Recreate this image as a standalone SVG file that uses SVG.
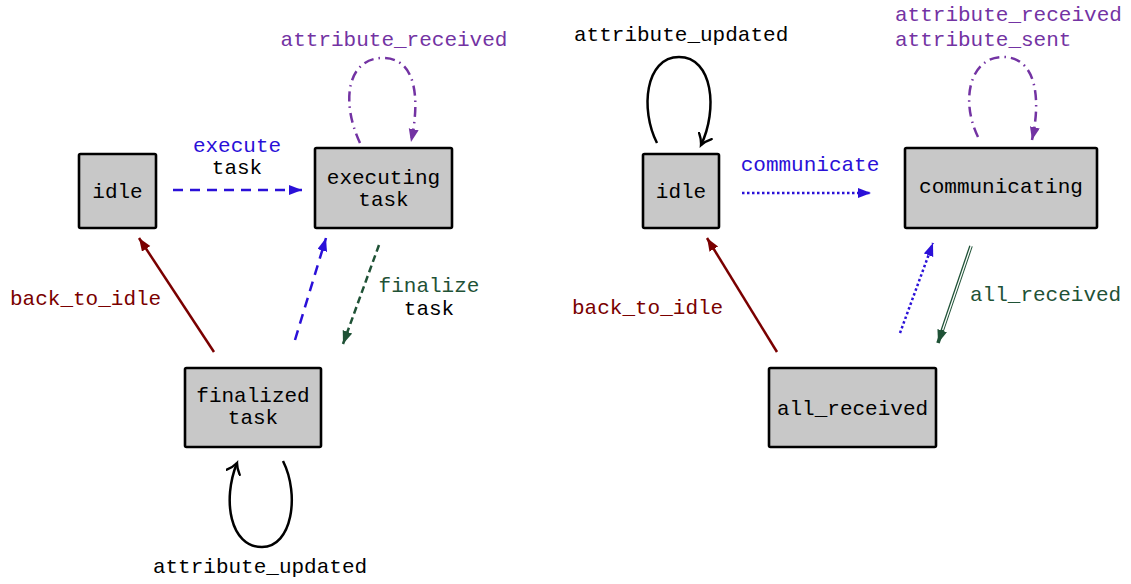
<svg xmlns="http://www.w3.org/2000/svg" width="1131" height="584" viewBox="0 0 1131 584">
<style>
text{font-family:"Liberation Mono","DejaVu Sans Mono",monospace;font-size:21px;}
.c{text-anchor:middle;}
.box{fill:#c8c8c8;stroke:#000;stroke-width:2.6;}
.blk{fill:#000;}
.blue{fill:#2a10d8;}
.pur{fill:#7333a3;}
.red{fill:#7a0000;}
.grn{fill:#1f5236;}
.e{fill:none;stroke-width:2.5;}
</style>
<defs>
<marker id="aBlue" markerUnits="userSpaceOnUse" markerWidth="14" markerHeight="12" refX="13" refY="5" orient="auto"><path d="M0,0 L13,5 L0,10 z" fill="#2a10d8"/></marker>
<marker id="aPur" markerUnits="userSpaceOnUse" markerWidth="14" markerHeight="12" refX="13" refY="5" orient="auto"><path d="M0,0 L13,5 L0,10 z" fill="#7333a3"/></marker>
<marker id="aRed" markerUnits="userSpaceOnUse" markerWidth="14" markerHeight="12" refX="13" refY="5" orient="auto"><path d="M0,0 L13,5 L0,10 z" fill="#7a0000"/></marker>
<marker id="aGrn" markerUnits="userSpaceOnUse" markerWidth="14" markerHeight="12" refX="13" refY="5" orient="auto"><path d="M0,0 L13,5 L0,10 z" fill="#1f5236"/></marker>
<marker id="aOpen" markerUnits="userSpaceOnUse" markerWidth="14" markerHeight="16" refX="11" refY="8" orient="auto"><path d="M1,1 Q6,6 11,8 Q6,10 1,15" fill="none" stroke="#000" stroke-width="2.4" stroke-linecap="round"/></marker>
</defs>

<g id="connectors">
<!-- left panel -->
<path class="e" d="M173,190 L302,190" stroke="#2a10d8" stroke-dasharray="10 7" marker-end="url(#aBlue)"/>
<path class="e" d="M360,143 C 340,100 348,58 383,58 C 417,58 420,100 411,142" stroke="#7333a3" stroke-dasharray="10 5 1.5 5" marker-end="url(#aPur)"/>
<path class="e" d="M214,352 L139,238" stroke="#7a0000" marker-end="url(#aRed)"/>
<path class="e" d="M295,340 L326,238" stroke="#2a10d8" stroke-dasharray="10 7" marker-end="url(#aBlue)"/>
<path class="e" d="M379,245 L343,344" stroke="#1f5236" stroke-dasharray="7 4" marker-end="url(#aGrn)"/>
<path class="e" d="M283,461 C 300,495 292,547 262,547 C 230,547 222,500 237,463" stroke="#000" marker-end="url(#aOpen)"/>
<!-- right panel -->
<path class="e" d="M657,143 C 640,110 645,57 679,57 C 713,57 718,110 701,145" stroke="#000" marker-end="url(#aOpen)"/>
<path class="e" d="M742,193 L871,193" stroke="#2a10d8" stroke-dasharray="2.5 2.5" marker-end="url(#aBlue)"/>
<path class="e" d="M978,137 C 960,100 970,57 1003,57 C 1037,57 1041,100 1032,140" stroke="#7333a3" stroke-dasharray="10 5 1.5 5" marker-end="url(#aPur)"/>
<path class="e" d="M777,352 L707,238" stroke="#7a0000" marker-end="url(#aRed)"/>
<path class="e" d="M900,333 L933,243" stroke="#2a10d8" stroke-dasharray="2.5 2.5" marker-end="url(#aBlue)"/>
<path d="M971,246 L938,343" fill="none" stroke="#1f5236" stroke-width="3.6" marker-end="url(#aGrn)"/>
<path d="M971.5,245 L942.6,330" fill="none" stroke="#fff" stroke-width="1.3"/>
</g>

<g id="labels">
<text class="c blue" x="237" y="152">execute</text>
<text class="c blk" x="237" y="174">task</text>
<text class="c pur" x="394" y="46">attribute_received</text>
<text class="red" x="10" y="305">back_to_idle</text>
<text class="c grn" x="429" y="292">finalize</text>
<text class="c blk" x="429" y="315">task</text>
<text class="c blk" x="260" y="573">attribute_updated</text>
<text class="blk" x="574" y="41">attribute_updated</text>
<text class="c blue" x="810" y="171">communicate</text>
<text class="pur" x="895" y="21">attribute_received</text>
<text class="pur" x="895" y="46">attribute_sent</text>
<text class="red" x="572" y="314">back_to_idle</text>
<text class="grn" x="970" y="301">all_received</text>
</g>

<g id="idle1"><rect class="box" x="79" y="154" width="77" height="74" rx="1.5"/><text class="c blk" x="117.5" y="198">idle</text></g>
<g id="executing_task"><rect class="box" x="315" y="148" width="137" height="80" rx="1.5"/><text class="c blk" x="383.5" y="184">executing</text><text class="c blk" x="383.5" y="206">task</text></g>
<g id="finalized_task"><rect class="box" x="185" y="368" width="136" height="79" rx="1.5"/><text class="c blk" x="253" y="402">finalized</text><text class="c blk" x="253" y="424">task</text></g>
<g id="idle2"><rect class="box" x="643" y="154" width="76" height="74" rx="1.5"/><text class="c blk" x="681" y="198">idle</text></g>
<g id="communicating"><rect class="box" x="905" y="148" width="192" height="80" rx="1.5"/><text class="c blk" x="1001" y="193">communicating</text></g>
<g id="all_received"><rect class="box" x="769" y="368" width="167" height="79" rx="1.5"/><text class="c blk" x="852.5" y="415">all_received</text></g>
</svg>
